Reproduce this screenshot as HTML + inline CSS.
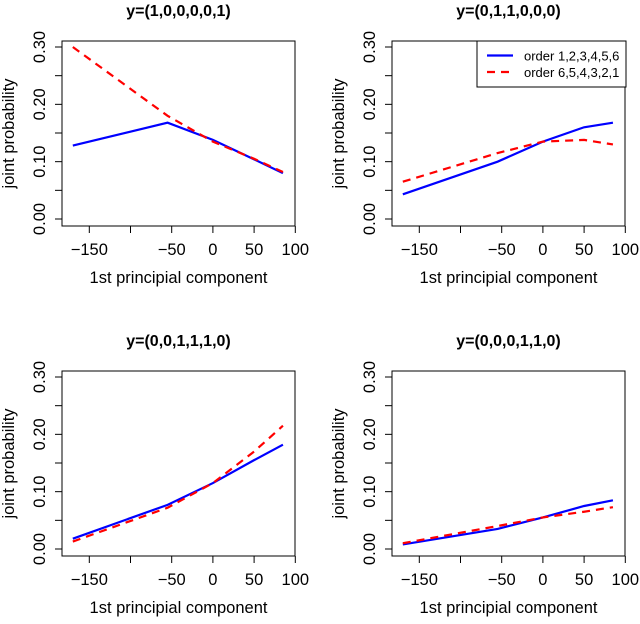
<!DOCTYPE html>
<html><head><meta charset="utf-8"><style>
body{margin:0;background:#fff}
svg text{font-family:"Liberation Sans",sans-serif;fill:#000}
</style></head><body>
<svg id="c" width="640" height="619" xmlns="http://www.w3.org/2000/svg"></svg>
<script>
const xs = [-170, -55, 0, 50, 85];
const titles = ["y=(1,0,0,0,0,1)", "y=(0,1,1,0,0,0)", "y=(0,0,1,1,1,0)", "y=(0,0,0,1,1,0)"];
const blue1 = [0.128, 0.168, 0.138, 0.104, 0.080];
const red1  = [0.300, 0.180, 0.135, 0.105, 0.082];
const blue2 = [0.043, 0.100, 0.135, 0.160, 0.168];
const red2  = [0.065, 0.115, 0.135, 0.138, 0.130];
const blue3 = [0.018, 0.077, 0.115, 0.155, 0.182];
const red3  = [0.013, 0.072, 0.115, 0.170, 0.215];
const blue4 = [0.008, 0.035, 0.055, 0.075, 0.085];
const red4  = [0.010, 0.040, 0.055, 0.065, 0.073];
const xTicks = [-150, -100, -50, 0, 50, 100];
const xTickLabels = ["\u2212150", "", "\u221250", "0", "50", "100"];
const yTicks = [0, 0.05, 0.10, 0.15, 0.20, 0.25, 0.30];
const yTickLabels = ["0.00", "", "0.10", "", "0.20", "", "0.30"];
const legendLabels = ["order 1,2,3,4,5,6", "order 6,5,4,3,2,1"];

const svg = document.getElementById('c');
const NS = "http://www.w3.org/2000/svg";
function mk(tag, attrs, parent){const e=document.createElementNS(NS,tag);for(const k in attrs)e.setAttribute(k,attrs[k]);(parent||svg).appendChild(e);return e;}
const series = [[blue1,red1],[blue2,red2],[blue3,red3],[blue4,red4]];
for(let p=0;p<4;p++){
  const ox = (p%2)*330, oy = Math.floor(p/2)*330;
  const g = mk('g',{});
  
  
  const L=62+ox, R=295+ox, T=41+oy, B=226+oy;
  const sx = v => 89.3+ox + (v+150)*0.824;
  const sy = v => 219+oy - v*573.3;
  const t = mk('text',{x:(L+R)/2,y:16+oy,'text-anchor':'middle','font-size':16,'font-weight':'bold'},g);
  t.textContent = titles[p];
  
  
  const box = mk('rect',{x:L,y:T,width:R-L,height:B-T,fill:'none',stroke:'#000','stroke-width':1},g);
  
  
  xTicks.forEach((v,i)=>{
    mk('line',{x1:sx(v),x2:sx(v),y1:B,y2:B+7,stroke:'#000'},g);
    if(xTickLabels[i]){const tl=mk('text',{x:sx(v),y:B+29,'text-anchor':'middle','font-size':16.5},g);tl.textContent=xTickLabels[i];
      
      }
  });
  yTicks.forEach((v,i)=>{
    mk('line',{x1:L,x2:L-7,y1:sy(v),y2:sy(v),stroke:'#000'},g);
    if(yTickLabels[i]){const tl=mk('text',{x:0,y:0,'text-anchor':'middle','font-size':16.5,transform:`translate(${L-17},${sy(v)}) rotate(-90)`},g);tl.textContent=yTickLabels[i];
      
      }
  });
  const xt = mk('text',{x:(L+R)/2,y:283+oy,'text-anchor':'middle','font-size':16.5},g);
  xt.textContent='1st principial component';
  
  
  const yt = mk('text',{x:0,y:0,'text-anchor':'middle','font-size':16.5,transform:`translate(${ox+14},${(T+B)/2}) rotate(-90)`},g);
  yt.textContent='joint probability';
  
  
  const [b,r]=series[p];
  const pb = mk('polyline',{points:xs.map((x,i)=>sx(x)+','+sy(b[i])).join(' '),fill:'none',stroke:'#0000ff','stroke-width':2.2},g);
  
  
  const pr = mk('polyline',{points:xs.map((x,i)=>sx(x)+','+sy(r[i])).join(' '),fill:'none',stroke:'#ff0000','stroke-width':2.2,'stroke-dasharray':'8,6'},g);
  
  
}
// legend
const lg = mk('g',{});


mk('rect',{x:477,y:41,width:149,height:46,fill:'#fff',stroke:'#000'},lg);
['#0000ff','#ff0000'].forEach((c,i)=>{
  const y=55.5+i*16.5;
  mk('line',{x1:487,x2:513,y1:y,y2:y,stroke:c,'stroke-width':2.2,'stroke-dasharray':i?'8,6':'none'},lg);
  const tx=mk('text',{x:524,y:y+5,'font-size':13},lg);
  tx.textContent=legendLabels[i];
  
  
});
</script>
</body></html>
